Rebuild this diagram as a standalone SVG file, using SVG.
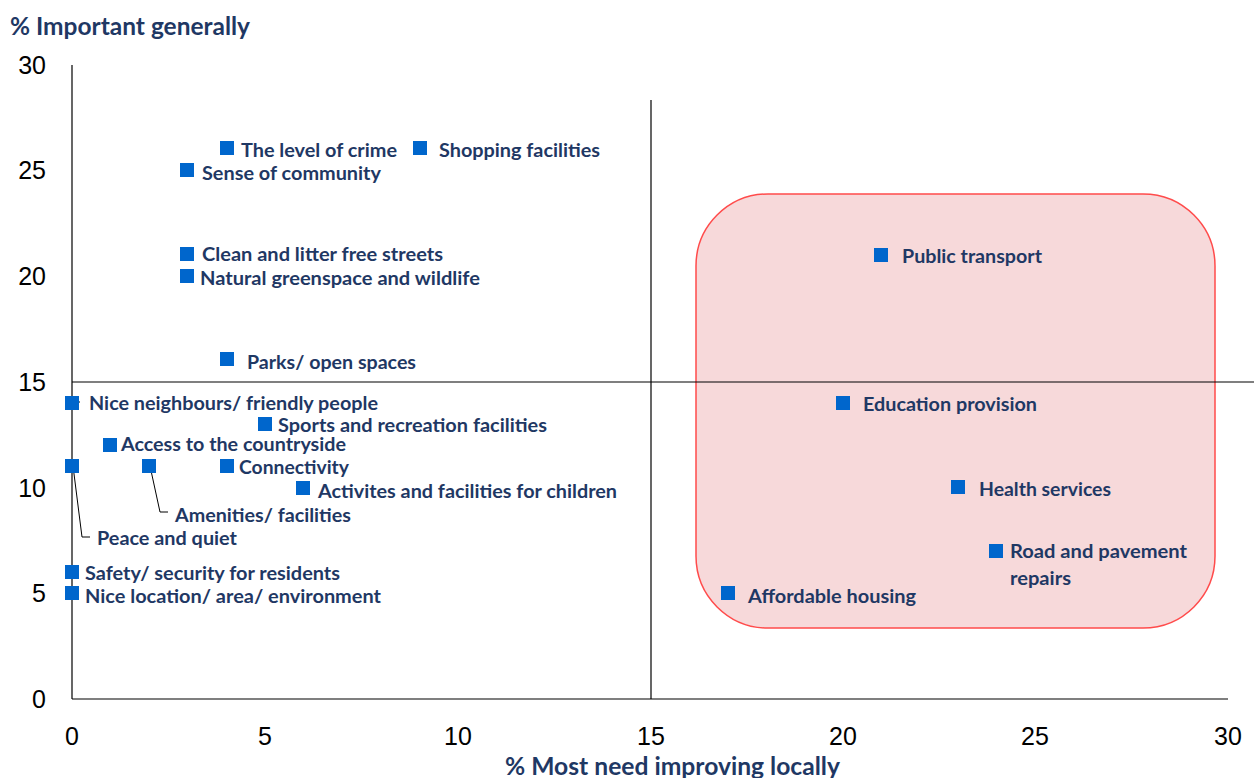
<svg xmlns="http://www.w3.org/2000/svg" width="1254" height="778" viewBox="0 0 1254 778">
<style>
.lbl{font-family:Lato,"Liberation Sans",sans-serif;font-weight:bold;font-size:19.5px;fill:#1F3864;dominant-baseline:central}
.tick{font-family:"Liberation Sans",Arial,sans-serif;font-size:25px;fill:#000;dominant-baseline:central}
.title{font-family:Lato,"Liberation Sans",sans-serif;font-weight:bold;font-size:24px;fill:#1F3864;dominant-baseline:central}
.ax{stroke:#000;stroke-width:1.2;fill:none}
.lead{stroke:#000;stroke-width:1;fill:none}
.m{fill:#0066CC}
</style>
<defs><rect id="mk" x="-7" y="-7" width="14" height="14" class="m"/></defs>
<rect width="1254" height="778" fill="#fff"/>
<g id="highlight"><rect x="696" y="194" width="519" height="434" rx="72" ry="72" fill="#F7D9DA" stroke="#FF4B4B" stroke-width="1.5"/></g>
<g id="axes">
<line class="ax" x1="72" y1="65" x2="72" y2="699"/>
<line class="ax" x1="72" y1="699" x2="1228" y2="699"/>
<line class="ax" x1="72" y1="382" x2="1254" y2="382"/>
<line class="ax" x1="651" y1="100" x2="651" y2="699"/>
<g class="tick" text-anchor="end">
<text x="46" y="65">30</text><text x="46" y="170">25</text><text x="46" y="276">20</text><text x="46" y="382">15</text><text x="46" y="488">10</text><text x="46" y="593">5</text><text x="46" y="699">0</text>
</g>
<g class="tick" text-anchor="middle">
<text x="72" y="736">0</text><text x="265" y="736">5</text><text x="458" y="736">10</text><text x="651" y="736">15</text><text x="843" y="736">20</text><text x="1035" y="736">25</text><text x="1228" y="736">30</text>
</g>
<text class="title" x="10" y="25" textLength="240" lengthAdjust="spacingAndGlyphs">% Important generally</text>
<text class="title" x="505" y="765" font-size="22" textLength="335" lengthAdjust="spacingAndGlyphs">% Most need improving locally</text>
</g>
<g id="connectors">
<path class="lead" d="M74,402 H80"/>
<path class="lead" d="M73,466 L82,537 H90"/>
<path class="lead" d="M150,466 L160,512 H168"/>
</g>
<g id="n1"><use href="#mk" x="227" y="148"/><text class="lbl" x="241" y="149" textLength="156" lengthAdjust="spacingAndGlyphs">The level of crime</text></g>
<g id="n2"><use href="#mk" x="420" y="148"/><text class="lbl" x="439" y="149" textLength="161" lengthAdjust="spacingAndGlyphs">Shopping facilities</text></g>
<g id="n3"><use href="#mk" x="187" y="170"/><text class="lbl" x="202" y="172" textLength="179" lengthAdjust="spacingAndGlyphs">Sense of community</text></g>
<g id="n4"><use href="#mk" x="187" y="254"/><text class="lbl" x="202" y="253" textLength="241" lengthAdjust="spacingAndGlyphs">Clean and litter free streets</text></g>
<g id="n5"><use href="#mk" x="187" y="276"/><text class="lbl" x="200" y="277" textLength="280" lengthAdjust="spacingAndGlyphs">Natural greenspace and wildlife</text></g>
<g id="n6"><use href="#mk" x="227" y="359"/><text class="lbl" x="247" y="361" textLength="169" lengthAdjust="spacingAndGlyphs">Parks/ open spaces</text></g>
<g id="n7"><use href="#mk" x="72" y="403"/><text class="lbl" x="89" y="402" textLength="289" lengthAdjust="spacingAndGlyphs">Nice neighbours/ friendly people</text></g>
<g id="n8"><use href="#mk" x="265" y="424"/><text class="lbl" x="278" y="424" textLength="269" lengthAdjust="spacingAndGlyphs">Sports and recreation facilities</text></g>
<g id="n9"><use href="#mk" x="110" y="445"/><text class="lbl" x="121" y="443" textLength="225" lengthAdjust="spacingAndGlyphs">Access to the countryside</text></g>
<g id="n10"><use href="#mk" x="72" y="466"/><text class="lbl" x="97" y="537" textLength="140" lengthAdjust="spacingAndGlyphs">Peace and quiet</text></g>
<g id="n11"><use href="#mk" x="149" y="466"/><text class="lbl" x="175" y="514" textLength="176" lengthAdjust="spacingAndGlyphs">Amenities/ facilities</text></g>
<g id="n12"><use href="#mk" x="227" y="466"/><text class="lbl" x="239" y="466" textLength="110" lengthAdjust="spacingAndGlyphs">Connectivity</text></g>
<g id="n13"><use href="#mk" x="303" y="488"/><text class="lbl" x="318" y="490" textLength="299" lengthAdjust="spacingAndGlyphs">Activites and facilities for children</text></g>
<g id="n14"><use href="#mk" x="72" y="572"/><text class="lbl" x="85" y="572" textLength="255" lengthAdjust="spacingAndGlyphs">Safety/ security for residents</text></g>
<g id="n15"><use href="#mk" x="72" y="593"/><text class="lbl" x="85" y="595" textLength="296" lengthAdjust="spacingAndGlyphs">Nice location/ area/ environment</text></g>
<g id="n16"><use href="#mk" x="881" y="255"/><text class="lbl" x="902" y="255" textLength="140" lengthAdjust="spacingAndGlyphs">Public transport</text></g>
<g id="n17"><use href="#mk" x="843" y="403"/><text class="lbl" x="863" y="403" textLength="174" lengthAdjust="spacingAndGlyphs">Education provision</text></g>
<g id="n18"><use href="#mk" x="958" y="487"/><text class="lbl" x="979" y="488" textLength="132" lengthAdjust="spacingAndGlyphs">Health services</text></g>
<g id="n19"><use href="#mk" x="996" y="551"/><text class="lbl" x="1010" y="550" textLength="177" lengthAdjust="spacingAndGlyphs">Road and pavement</text><text class="lbl" x="1010" y="577" textLength="61" lengthAdjust="spacingAndGlyphs">repairs</text></g>
<g id="n20"><use href="#mk" x="728" y="593"/><text class="lbl" x="748" y="595" textLength="168" lengthAdjust="spacingAndGlyphs">Affordable housing</text></g>
</svg>
